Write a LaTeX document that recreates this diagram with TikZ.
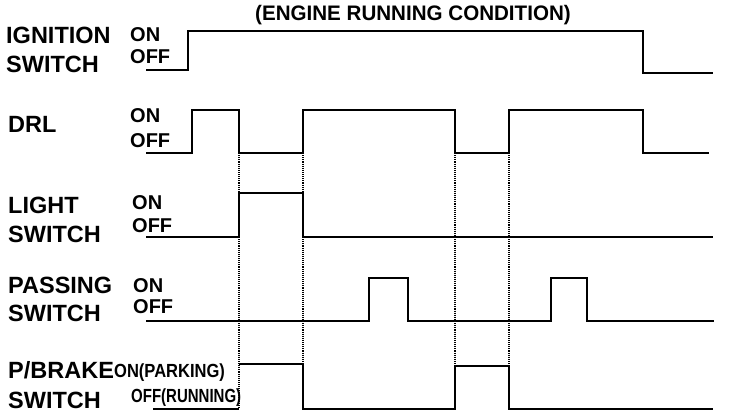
\documentclass[tikz,border=0pt]{standalone}
\usepackage{fontspec}
\setmainfont{Liberation Sans}
\usetikzlibrary{positioning}

\begin{document}
\begin{tikzpicture}[x=1pt, y=-1pt,
    sig/.style={line width=1.6pt, line join=miter},
    guide/.style={densely dotted, line width=1.1pt},
    lbl/.style={anchor=base west, inner sep=0pt, font=\bfseries\fontsize{23.5}{28}\selectfont},
    lvl/.style={anchor=base west, inner sep=0pt, font=\bfseries\fontsize{20}{22}\selectfont},
    pbk/.style={anchor=base west, inner sep=0pt, font=\bfseries\fontsize{19}{22}\selectfont}]
  \useasboundingbox (0,0) rectangle (736,418);
  % title
  \node (cond) [anchor=base west, inner sep=0pt, xscale=0.98,
    font=\bfseries\fontsize{21}{24}\selectfont] at (255,20) {(ENGINE RUNNING CONDITION)};
  % signal names
  \node (ign)  [lbl] at (6,43)   {IGNITION};
  \node (ignb) [lbl] at (6,72)   {SWITCH};
  \node (drl)  [lbl] at (8,132)  {DRL};
  \node (lit)  [lbl] at (8,213)  {LIGHT};
  \node (litb) [lbl] at (8,242)  {SWITCH};
  \node (pas)  [lbl] at (8,293)  {PASSING};
  \node (pasb) [lbl] at (8,321)  {SWITCH};
  \node (pbr)  [lbl] at (8,378)  {P/BRAKE};
  \node (pbrb) [lbl] at (8,408)  {SWITCH};
  % levels
  \node (ignon)  [lvl] at (130,41)  {ON};
  \node (ignoff) [lvl] at (130,63)  {OFF};
  \node (drlon)  [lvl] at (130,122) {ON};
  \node (drloff) [lvl] at (130,147) {OFF};
  \node (liton)  [lvl] at (132,209) {ON};
  \node (litoff) [lvl] at (132,232) {OFF};
  \node (pason)  [lvl] at (133,292) {ON};
  \node (pasoff) [lvl] at (133,313) {OFF};
  \node (pbron)  [pbk, xscale=0.87] at (114,377) {ON(PARKING)};
  \node (pbroff) [pbk, xscale=0.79] at (131,402) {OFF(RUNNING)};
  % guides
  \draw[guide] (239,153) -- (239,409);
  \foreach \x in {303,455,509}
    \draw[guide] (\x,153) -- (\x,365);
  % waveforms
  \draw[sig] (146,70) -| (188,31) -| (643,73) -- (713,73);
  \draw[sig] (146,153) -| (192,110) -| (239,153) -| (303,110) -| (455,153)
             -| (509,110) -| (643,153) -- (709,153);
  \draw[sig] (146,237) -| (239,193) -| (303,237) -- (713,237);
  \draw[sig] (146,321) -| (369,278) -| (408,321) -| (551,278) -| (587,321) -- (714,321);
  \draw[sig] (153,409) -- (239,409);
  \draw[sig] (239,364) -| (303,409) -| (455,366) -| (509,409) -- (713,409);
\end{tikzpicture}
\end{document}
